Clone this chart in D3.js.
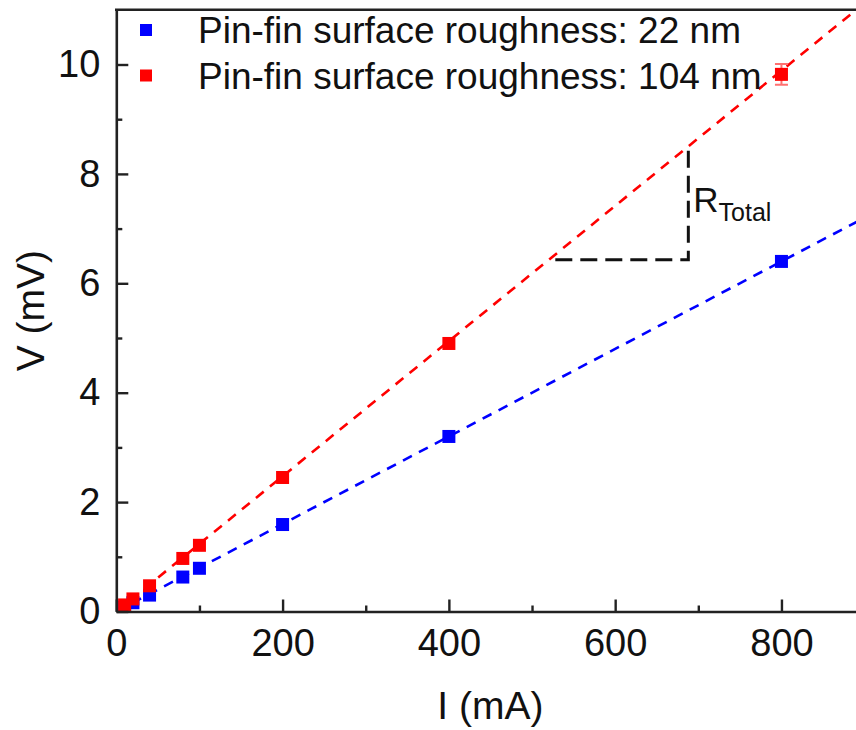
<!DOCTYPE html>
<html>
<head>
<meta charset="utf-8">
<script src="https://cdn.jsdelivr.net/npm/d3@7"></script>
<style>
  body { margin: 0; background: #fff; }
  svg { display: block; }
  text { font-family: Arial, "Liberation Sans", sans-serif; fill: #111; }
</style>
</head>
<body>
<svg id="chart" width="856" height="730"></svg>
<script>
// Current sweep (mA) and measured voltage drop (mV) for two roughness levels
const current = [10, 20, 40, 80, 100, 200, 400, 800];
const voltage22 = [0.08, 0.16, 0.30, 0.63, 0.79, 1.59, 3.20, 6.40];
const voltage104 = [0.12, 0.23, 0.47, 0.97, 1.21, 2.45, 4.90, 9.82];
const error104 = [0, 0, 0, 0, 0, 0, 0, 0.19];

// Linear fits V = slope * I + intercept
const fit22 = { slope: 0.00800, intercept: 0 };
const fit104 = { slope: 0.01236, intercept: 0 };

const xMajorTicks = [0, 200, 400, 600, 800];
const xMinorTicks = [100, 300, 500, 700];
const yMajorTicks = [0, 2, 4, 6, 8, 10];
const yMinorTicks = [1, 3, 5, 7, 9];

const legendLabels = ["Pin-fin surface roughness: 22 nm", "Pin-fin surface roughness: 104 nm"];
const seriesColors = ["#0000ff", "#ff0000"];

// Slope triangle on the 104 nm fit (I in mA, V in mV)
const triangleI = [528, 688, 688];
const triangleV = [6.43, 6.43, 8.46];

const svg = d3.select("#chart");
const W = 856, H = 730;
svg.append("rect").attr("width", W).attr("height", H).attr("fill", "#fff");

const plot = { left: 116.3, right: 864.6, top: 9.8, bottom: 611.5 };
const x = d3.scaleLinear().domain([0, 900]).range([plot.left, plot.right]);
const y = d3.scaleLinear().domain([0, 11]).range([plot.bottom, plot.top]);

svg.append("clipPath").attr("id", "plotClip")
  .append("rect")
  .attr("x", plot.left).attr("y", plot.top)
  .attr("width", plot.right - plot.left).attr("height", plot.bottom - plot.top);

const inner = svg.append("g").attr("clip-path", "url(#plotClip)");

// Fit lines
const fits = [fit22, fit104];
fits.forEach((f, i) => {
  inner.append("line")
    .attr("x1", x(0)).attr("y1", y(f.intercept))
    .attr("x2", x(900)).attr("y2", y(f.intercept + f.slope * 900))
    .attr("stroke", seriesColors[i])
    .attr("stroke-width", 2.6)
    .attr("stroke-dasharray", "10,8");
});

// Slope triangle
const tri = d3.line().x((d, i) => x(triangleI[i])).y((d, i) => y(triangleV[i]));
inner.append("path")
  .attr("d", tri(triangleI))
  .attr("fill", "none")
  .attr("stroke", "#111")
  .attr("stroke-width", 3)
  .attr("stroke-dasharray", "17,8");

svg.append("text")
  .attr("x", x(694)).attr("y", y(7.3))
  .attr("font-size", 35)
  .text("R")
  .append("tspan")
  .attr("font-size", 25)
  .attr("dy", 9)
  .text("Total");

// Error bars
const errData = current.map((c, i) => ({ c, v: voltage104[i], e: error104[i] })).filter(d => d.e > 0);
const eb = inner.append("g").attr("stroke", "#ff7070").attr("stroke-width", 2);
errData.forEach(d => {
  eb.append("line").attr("x1", x(d.c)).attr("x2", x(d.c)).attr("y1", y(d.v - d.e)).attr("y2", y(d.v + d.e));
  eb.append("line").attr("x1", x(d.c) - 6.5).attr("x2", x(d.c) + 6.5).attr("y1", y(d.v - d.e)).attr("y2", y(d.v - d.e));
  eb.append("line").attr("x1", x(d.c) - 6.5).attr("x2", x(d.c) + 6.5).attr("y1", y(d.v + d.e)).attr("y2", y(d.v + d.e));
});

// Markers
const ms = 13;
[voltage22, voltage104].forEach((vals, si) => {
  inner.append("g").selectAll("rect")
    .data(current.map((c, i) => [c, vals[i]]))
    .join("rect")
    .attr("x", d => x(d[0]) - ms / 2)
    .attr("y", d => y(d[1]) - ms / 2)
    .attr("width", ms).attr("height", ms)
    .attr("fill", seriesColors[si]);
});

// Axes with inward ticks
const axisColor = "#222";
const gx = svg.append("g").attr("transform", `translate(0,${plot.bottom})`)
  .call(d3.axisBottom(x).tickValues(xMajorTicks).tickSizeInner(-12).tickSizeOuter(0).tickPadding(18).tickFormat(d3.format("d")));
const gxm = svg.append("g").attr("transform", `translate(0,${plot.bottom})`)
  .call(d3.axisBottom(x).tickValues(xMinorTicks).tickSizeInner(-6).tickSizeOuter(0).tickFormat(""));
const gy = svg.append("g").attr("transform", `translate(${plot.left},0)`)
  .call(d3.axisLeft(y).tickValues(yMajorTicks).tickSizeInner(-12).tickSizeOuter(0).tickPadding(16).tickFormat(d3.format("d")));
const gym = svg.append("g").attr("transform", `translate(${plot.left},0)`)
  .call(d3.axisLeft(y).tickValues(yMinorTicks).tickSizeInner(-6).tickSizeOuter(0).tickFormat(""));

[gx, gxm, gy, gym].forEach(g => {
  g.select(".domain").attr("stroke", axisColor).attr("stroke-width", 2.6);
  g.selectAll(".tick line").attr("stroke", axisColor).attr("stroke-width", 2.4);
  g.selectAll(".tick text").attr("font-size", 38).attr("font-family", "Arial, 'Liberation Sans', sans-serif").attr("fill", "#111");
});
gym.select(".domain").remove();
gxm.select(".domain").remove();

// Frame: top and right borders
svg.append("line")
  .attr("x1", plot.left - 1.3).attr("x2", plot.right)
  .attr("y1", plot.top).attr("y2", plot.top)
  .attr("stroke", axisColor).attr("stroke-width", 2.6);
svg.append("line")
  .attr("x1", plot.right).attr("x2", plot.right)
  .attr("y1", plot.top).attr("y2", plot.bottom)
  .attr("stroke", axisColor).attr("stroke-width", 2.6);

// Axis titles
svg.append("text")
  .attr("x", (plot.left + plot.right) / 2).attr("y", 719)
  .attr("text-anchor", "middle").attr("font-size", 39)
  .text("I (mA)");
svg.append("text")
  .attr("transform", `translate(44,${(plot.top + plot.bottom) / 2}) rotate(-90)`)
  .attr("text-anchor", "middle").attr("font-size", 39)
  .text("V (mV)");

// Legend
const legend = svg.append("g");
legendLabels.forEach((lab, i) => {
  const cy = 30 + i * 45.5;
  legend.append("rect")
    .attr("x", 146 - 6).attr("y", cy - 6)
    .attr("width", 12).attr("height", 12)
    .attr("fill", seriesColors[i]);
  legend.append("text")
    .attr("x", 198).attr("y", cy + 13.3)
    .attr("font-size", 37)
    .text(lab);
});
</script>
</body>
</html>
